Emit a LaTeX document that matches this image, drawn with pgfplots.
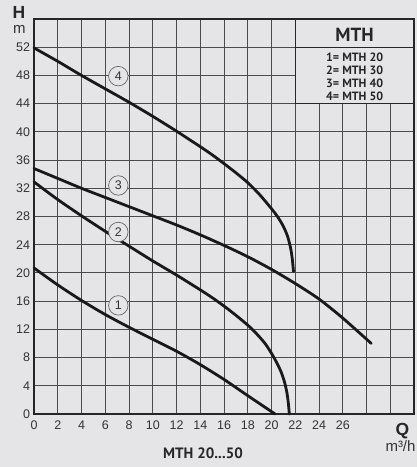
\documentclass[border=0pt]{standalone}
\usepackage{pgfplots}
\pgfplotsset{compat=1.18}
\usepackage{fontspec}
\setmainfont{Liberation Sans}
\newfontfamily\ptsans{PT Sans}
\usetikzlibrary{backgrounds}
\definecolor{bg}{RGB}{229,229,231}
\definecolor{gridc}{RGB}{75,75,75}
\definecolor{curve}{RGB}{25,25,25}
\tikzset{clab/.style={circle, draw=black!60, fill=bg, inner sep=0pt, minimum size=19.5pt, line width=0.7pt,
        font=\fontsize{12.5}{14}\selectfont, text=black!80}}
\begin{document}
\begin{tikzpicture}
\begin{axis}[name=ax, scale only axis, width=380pt, height=395pt,
  xmin=0, xmax=32, ymin=0, ymax=56,
  xtick={0,2,...,30},
  xticklabels={0,2,4,6,8,10,12,14,16,18,20,22,24,26,{},{}},
  ytick={0,4,...,52},
  grid=major, major grid style={gridc, line width=0.9pt},
  axis line style={black!85, line width=1.3pt},
  tick style={draw=none},
  ticklabel style={font=\fontsize{12.5}{14}\selectfont, text=black!80},
  /pgf/number format/assume math mode=true,
  xticklabel style={yshift=-3pt},
  yticklabel style={xshift=-0.5pt},
  clip=false,
  axis background/.style={fill=bg}]
\addplot[curve, line width=2.8pt, smooth, tension=0.45, line cap=round] coordinates {
 (0,20.7) (2,18.3) (4,16.1) (6,14.1) (8,12.3) (10,10.6) (12,8.9) (14,7.0) (16,4.9) (18,2.6) (20.3,0)};
\addplot[curve, line width=2.8pt, smooth, tension=0.45, line cap=round] coordinates {
 (0,32.9) (2,30.4) (4,28.1) (6,25.9) (8,23.8) (10,21.7) (12,19.7) (14,17.6) (15,16.5) (16,15.3) (17,14.0) (18,12.6) (18.5,11.8) (19,10.9) (19.5,9.9) (20,8.6) (20.4,7.4) (20.8,6.0) (21.1,4.5) (21.3,3.0) (21.42,1.5) (21.5,0)};
\addplot[curve, line width=2.8pt, smooth, tension=0.45, line cap=round] coordinates {
 (0,34.8) (2,33.4) (4,32.0) (6,30.7) (8,29.4) (10,28.1) (12,26.8) (14,25.4) (16,23.9) (18,22.3) (20,20.5) (22,18.5) (24,16.3) (26,13.6) (28.4,10.0)};
\addplot[curve, line width=2.8pt, smooth, tension=0.45, line cap=round] coordinates {
 (0,51.9) (2,50.0) (4,48.0) (6,46.1) (8,44.2) (10,42.2) (12,40.1) (13,39.0) (14,37.9) (15,36.75) (16,35.5) (17,34.2) (18,32.8) (19,31.1) (20,29.1) (20.5,28.0) (21,26.6) (21.35,25.2) (21.6,23.6) (21.75,22.0) (21.85,20.2)};
% curve labels
\node[clab] at (axis cs:7.1,47.9) {4};
\node[clab] at (axis cs:7.1,32.4) {3};
\node[clab] at (axis cs:7.1,25.8) {2};
\node[clab] at (axis cs:7.1,15.4) {1};
% legend box
\fill[bg] (axis cs:22,44) rectangle (axis cs:32,56);
\draw[black!85, line width=1.1pt] (axis cs:22,44) rectangle (axis cs:32,56);
\draw[black!85, line width=1.1pt] (axis cs:22,52) -- (axis cs:32,52);
\node[font=\ptsans\bfseries\fontsize{19}{21}\selectfont, text=black!85] at (axis cs:27,53.8) {MTH};
\node[font=\ptsans\bfseries\fontsize{12}{13}\selectfont, text=black!85] at (axis cs:27,50.6) {1= MTH 20};
\node[font=\ptsans\bfseries\fontsize{12}{13}\selectfont, text=black!85] at (axis cs:27,48.75) {2= MTH 30};
\node[font=\ptsans\bfseries\fontsize{12}{13}\selectfont, text=black!85] at (axis cs:27,46.9) {3= MTH 40};
\node[font=\ptsans\bfseries\fontsize{12}{13}\selectfont, text=black!85] at (axis cs:27,45.05) {4= MTH 50};
\end{axis}
\node[anchor=base, inner sep=0pt, font=\bfseries\fontsize{17.5}{20}\selectfont, text=black!85] at ([xshift=-15pt,yshift=0.7pt]ax.north west) {H};
\node[anchor=base, inner sep=0pt, font=\fontsize{15}{17}\selectfont, text=black!80] at ([xshift=-14.7pt,yshift=-14.3pt]ax.north west) {m};
\node[anchor=base, inner sep=0pt, font=\bfseries\fontsize{17.5}{20}\selectfont, text=black!85] at ([xshift=-11.5pt,yshift=-22pt]ax.south east) {Q};
\node[anchor=base, inner sep=0pt, font=\fontsize{15}{17}\selectfont, text=black!80] at ([xshift=-13.5pt,yshift=-37.7pt]ax.south east) {m³/h};
\node[anchor=base, inner sep=0pt, font=\ptsans\bfseries\fontsize{15}{17}\selectfont, text=black!85] at ([xshift=169pt,yshift=-44pt]ax.south west) {MTH 20...50};
\begin{scope}[on background layer]
\fill[bg] ([xshift=-34pt,yshift=-53pt]ax.south west) rectangle ([xshift=3pt,yshift=19pt]ax.north east);
\end{scope}
\end{tikzpicture}
\end{document}
